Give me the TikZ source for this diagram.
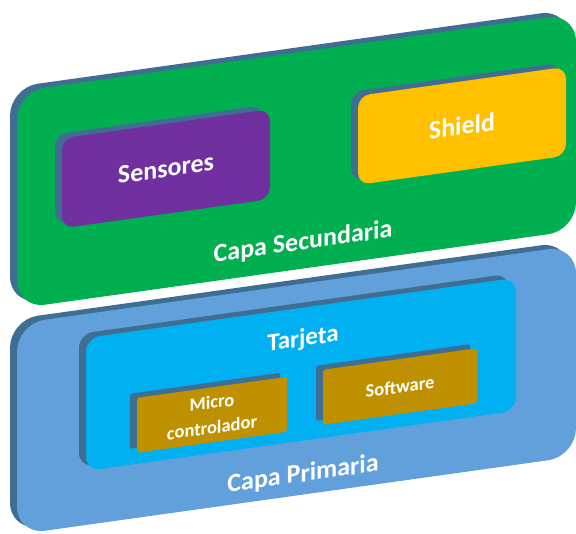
\documentclass[tikz,border=0pt]{standalone}
\usepackage{fontspec}
\setmainfont{Carlito}
\usetikzlibrary{shadows}
\definecolor{secgreen}{HTML}{00B050}
\definecolor{sensorpurple}{HTML}{7030A0}
\definecolor{shieldyellow}{HTML}{FFC000}
\definecolor{primblue}{HTML}{62A0DC}
\definecolor{cardcyan}{HTML}{00B0F0}
\definecolor{partgold}{HTML}{BF9000}
\definecolor{sideblue}{HTML}{3F6E92}

\tikzset{
  slab/.style={rectangle, rounded corners=#1, transform shape, inner sep=0pt,
    general shadow={fill=sideblue, shadow xshift=-7pt, shadow yshift=4pt}},
  slablabel/.style={transform shape, text=white, font=\bfseries\fontsize{26}{31}\selectfont},
  partlabel/.style={transform shape, text=white, align=center, inner sep=0pt,
    font=\bfseries\fontsize{18.5}{25}\selectfont}
}

\begin{document}
\begin{tikzpicture}[x=1pt, y=-1pt]
    \useasboundingbox (0,0) rectangle (576,534);
    \begin{scope}[yslant=0.14]
        \node [slab=28, fill=secgreen, minimum width=559, minimum height=217] (secundaria) at (296.5,202.5) {};
        \node [slab=12, fill=sensorpurple, minimum width=208, minimum height=90] (sensores) at (166,192) {};
        \node [slab=12, fill=shieldyellow, minimum width=208, minimum height=89] (shield) at (462,190.5) {};
        \node [slablabel] (sensorestxt) at (sensores) {Sensores};
        \node [slablabel] (shieldtxt) at (shield) {Shield};
        \node [slablabel] (capasec) at (303,285) {Capa Secundaria};

        \node [slab=28, fill=primblue, minimum width=559, minimum height=211] (primaria) at (296.5,431.5) {};
        \node [slab=14, fill=cardcyan, minimum width=430, minimum height=133] (tarjeta) at (301,416.5) {};
        \node [slab=2, fill=partgold, minimum width=150, minimum height=55] (micro) at (212,444.5) {};
        \node [slab=2, fill=partgold, minimum width=154, minimum height=55] (software) at (400,442.5) {};
        \node [slablabel, font=\bfseries\fontsize{25}{30}\selectfont] (tarjetatxt) at (303,382) {Tarjeta};
        \node [partlabel] (microtxt) at (micro) {Micro\\controlador};
        \node [partlabel] (softwaretxt) at (software) {Software};
        \node [slablabel] (capaprim) at (303,517) {Capa Primaria};
    \end{scope}
\end{tikzpicture}
\end{document}
